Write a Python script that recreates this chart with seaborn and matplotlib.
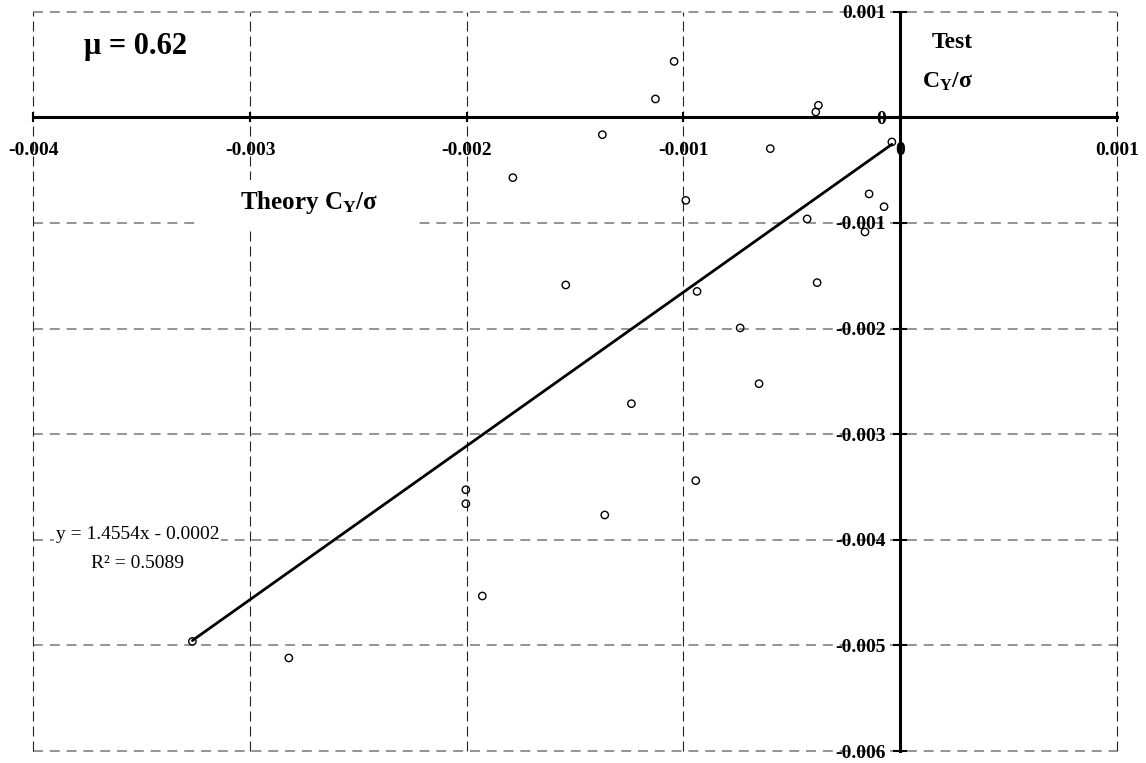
import matplotlib
matplotlib.use('Agg')
import matplotlib.pyplot as plt
import seaborn as sns
import pandas as pd
import numpy as np
from matplotlib.patches import Rectangle

# dados (teoria x teste, C_Y/sigma)
theory = [-0.001043, -0.001129, -0.001374, -0.000599, -0.001787, -0.000989,
          -0.000377, -0.000389, -0.000038, -0.000143, -0.000074, -0.000429,
          -0.000162, -0.001543, -0.000937, -0.000738, -0.000651, -0.001240,
          -0.000943, -0.002004, -0.002004, -0.000383, -0.003266, -0.002821,
          -0.001928, -0.001363]
test = [0.000530, 0.000174, -0.000164, -0.000296, -0.000571, -0.000786,
        0.000114, 0.000051, -0.000233, -0.000725, -0.000846, -0.000962,
        -0.001085, -0.001587, -0.001648, -0.001994, -0.002522, -0.002711,
        -0.003440, -0.003526, -0.003658, -0.001565, -0.004962, -0.005119,
        -0.004532, -0.003765]

slope = 1.4554
intercept = -0.0002
r2 = 0.5089
mu = 0.62

x_ticks = [-0.004, -0.003, -0.002, -0.001, 0, 0.001]
x_tick_labels = ['-0.004', '-0.003', '-0.002', '-0.001', '0', '0.001']
y_ticks = [-0.006, -0.005, -0.004, -0.003, -0.002, -0.001, 0, 0.001]
y_tick_labels = ['-0.006', '-0.005', '-0.004', '-0.003', '-0.002', '-0.001', '0', '0.001']

df = pd.DataFrame({'theory': theory, 'test': test})

sns.set_theme(style='white')
plt.rcParams['font.family'] = ['Liberation Serif', 'DejaVu Serif']
plt.rcParams['text.color'] = 'black'
plt.rcParams['mathtext.fontset'] = 'custom'
plt.rcParams['mathtext.rm'] = 'Liberation Serif:bold'
plt.rcParams['mathtext.it'] = 'Liberation Serif:bold'
plt.rcParams['mathtext.bf'] = 'Liberation Serif:bold'

fig = plt.figure(figsize=(11.46, 7.63), dpi=100)
ax = fig.add_axes([0.0291, 0.0157, 0.9454, 0.9689])

# pontos
sns.scatterplot(data=df, x='theory', y='test', ax=ax, marker='o', s=28,
                facecolor='none', edgecolor='black', linewidth=1, zorder=3)

# linha de tendencia
xs = np.array([df['theory'].min(), df['theory'].max()])
sns.lineplot(x=xs, y=slope * xs + intercept, ax=ax, color='black', lw=2, zorder=2.6)

ax.set_xlim(x_ticks[0], x_ticks[-1])
ax.set_ylim(y_ticks[0], y_ticks[-1])
ax.set_xticks(x_ticks)
ax.set_yticks(y_ticks)
ax.set_xticklabels(x_tick_labels)
ax.set_yticklabels(y_tick_labels)
ax.set_xlabel('')
ax.set_ylabel('')

# grade tracejada
ax.grid(False)
for yv in y_ticks:
    ax.axhline(yv, color='#777777', lw=1.1, linestyle=(0, (6.5, 4.5)), zorder=0.5, clip_on=False)
for xv in x_ticks:
    ax.axvline(xv, color='#222222', lw=0.8, linestyle=(0, (9, 4.5)), zorder=0.5, clip_on=False)

# eixos cruzando no zero
ax.spines['left'].set_position(('data', 0))
ax.spines['bottom'].set_position(('data', 0))
ax.spines['top'].set_visible(False)
ax.spines['right'].set_visible(False)
for s in ['left', 'bottom']:
    ax.spines[s].set_color('black')
    ax.spines[s].set_linewidth(2.2)
    ax.spines[s].set_zorder(2.5)
ax.tick_params(axis='x', direction='inout', length=7, width=1.5, pad=14,
               colors='black', labelcolor='black', labelsize=14, bottom=True)
ax.tick_params(axis='y', direction='inout', length=10, width=1.5, pad=5,
               colors='black', labelcolor='black', labelsize=14, left=True)
for lbl in ax.get_xticklabels() + ax.get_yticklabels():
    lbl.set_fontweight('bold')

# textos
ax.text(-0.00353, 0.00067, 'μ = %.2f' % mu, fontsize=22, fontweight='bold',
        ha='center', va='center')
ax.text(0.00024, 0.00071, 'Test', fontsize=17, fontweight='bold', ha='center', va='center')
ax.text(0.00022, 0.00034, r'$\mathrm{C_Y}$/σ', fontsize=17, fontweight='bold',
        ha='center', va='center')

ax.add_patch(Rectangle((-0.003253, -0.001035), 0.001024, 0.000445,
                       facecolor='white', edgecolor='none', zorder=0.8))
ax.text(-0.00273, -0.00081, r'Theory $\mathrm{C_Y}$/σ', fontsize=18, fontweight='bold',
        ha='center', va='center', zorder=4)

ax.text(-0.00352, -0.00395, 'y = %.4fx - %.4f' % (slope, abs(intercept)), fontsize=14,
        ha='center', va='center', zorder=4,
        bbox=dict(facecolor='white', edgecolor='none', pad=1))
ax.text(-0.00352, -0.00422, 'R² = %.4f' % r2, fontsize=14, ha='center', va='center', zorder=4)

fig.savefig('out.png', dpi=100)
